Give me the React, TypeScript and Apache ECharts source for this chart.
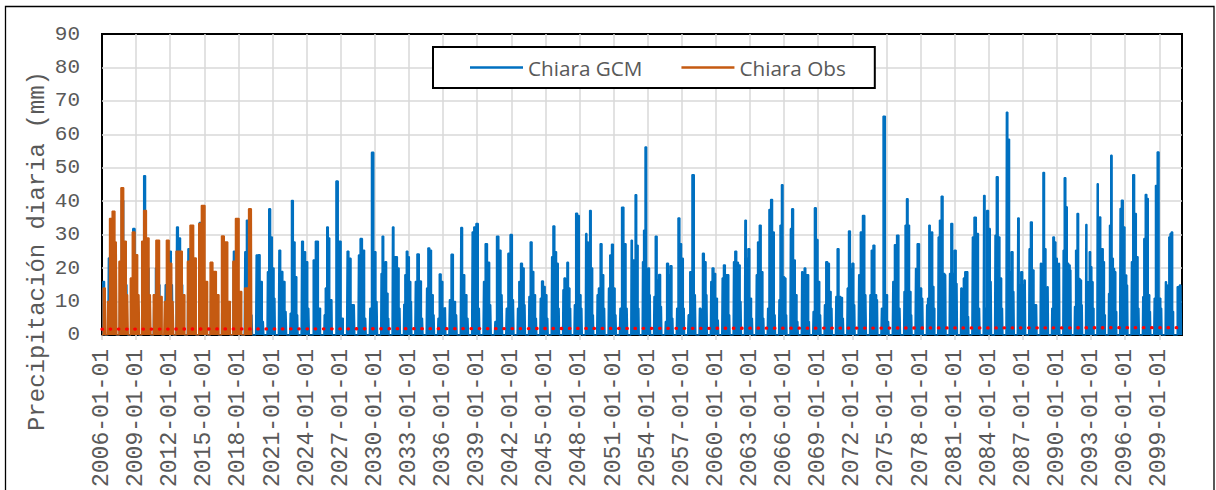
import React, { useEffect, useRef } from "react";
import * as echarts from "echarts";

// Wet-season peak heights (mm/day), one list per season (season index 0 = 2006)
const gcm2006to2017: number[][] = [
  [20, 15, 16],
  [23, 30, 18, 12],
  [15, 40.2, 25, 15],
  [12, 31.8, 20, 12],
  [20, 47.6, 28, 20, 10],
  [12, 20, 15, 10],
  [15, 22, 25, 15],
  [32.3, 29, 15, 10],
  [25.8, 20, 12, 8],
  [33.6, 25, 12, 8],
  [15.7, 12, 8, 6],
  [20, 15, 10, 6],
];
const gcm2018to2029: number[][] = [
  [25, 18, 10, 6],
  [24.9, 34.3, 17, 6],
  [23.9, 24, 16, 4],
  [18.9, 37.7, 29.3, 20, 11],
  [25.3, 19, 16, 7],
  [6.5, 40.2, 27.8, 17.4, 6],
  [28, 24.9, 21.9, 8],
  [22.4, 28, 8],
  [6, 14, 32.3, 29, 10.5, 10.5],
  [46, 28, 5],
  [25, 22.9, 9, 9],
  [23.9, 28.8, 25.3, 5],
];
const gcm2030to2041: number[][] = [
  [8, 54.6, 24.9, 10],
  [18.4, 29.5, 19.9, 21.9, 12.5, 5],
  [32.3, 23.4, 23.4, 20, 8],
  [9.2, 18, 25, 23.4, 16, 10],
  [16, 24.2, 16.1, 5],
  [14, 26, 25.3, 12, 6],
  [5, 18.2, 16, 8, 8.2],
  [10.5, 24.1, 10, 6],
  [32.1, 18, 12, 5],
  [30.8, 32.3, 33.3, 8],
  [16, 27.3, 21.7, 9],
  [4, 29.5, 25.3, 12],
];
const gcm2042to2053: number[][] = [
  [8, 24.4, 30, 10.5],
  [8, 16, 21.4, 20, 9],
  [11.5, 27.8, 19, 12, 5],
  [11, 16.1, 14.5, 12, 5],
  [23.4, 32.6, 24.9, 21.4, 8],
  [13.5, 17, 13.5, 21.7, 14, 8],
  [9, 36.4, 35.7, 12, 8],
  [30.3, 27.8, 25, 37.2, 20, 6],
  [12, 14, 27.3, 18, 8],
  [14, 23.9, 27.1, 14, 6],
  [8, 38.2, 27.3, 8],
  [28.3, 22.4, 22.4, 41.9, 26.8, 8],
];
const gcm2054to2065: number[][] = [
  [21.9, 31.3, 56.2, 18.9, 20, 12],
  [11.5, 29.5, 16.4, 18.1, 8.5],
  [4, 21.4, 18, 20.7, 5],
  [8, 35, 27.3, 22.9, 8],
  [6, 18.9, 47.9, 12],
  [8, 7.5, 24.4, 21.9, 12],
  [16, 20, 18.4, 11, 4.5],
  [17, 20.9, 18, 18, 6],
  [21.9, 25, 21.7, 20.9, 10],
  [34.3, 22.9, 25.8, 11, 5],
  [18, 27.8, 32.8, 18.9, 5],
  [8, 37.5, 40.5, 30.8, 6],
];
const gcm2066to2077: number[][] = [
  [10.5, 32.8, 44.9, 17.4, 17, 6],
  [31.8, 37.7, 22.4, 12, 4],
  [18.9, 12.5, 20, 18, 18, 4],
  [7, 38, 28.5, 16, 6],
  [9, 21.9, 21.4, 13, 8],
  [11.5, 25.8, 11.5, 11.2, 5],
  [14, 31.1, 19.9, 21.4, 9],
  [18, 30.8, 35.7, 12],
  [12, 25.3, 26.8, 12, 10.5],
  [8, 65.4, 12, 4],
  [16, 27, 29.8, 8],
  [13, 32.8, 40.7, 32.8, 13, 6],
];
const gcm2078to2089: number[][] = [
  [19.9, 27.3, 14, 11],
  [9, 11, 32.8, 30.3, 30.8, 14.5, 8],
  [29.3, 34.3, 41.5, 18.4, 18],
  [18.4, 33.3, 18.4, 25.3, 15.4],
  [14, 13.5, 17, 18.9, 18.9, 5.5],
  [29.3, 35.2, 30.3, 8],
  [41.7, 8, 37.2, 31.8, 16],
  [29.8, 47.3, 29.3, 17, 8],
  [66.6, 58.5, 18.9, 24.9, 13],
  [35, 15, 18.9, 15, 16.4],
  [25.8, 33.8, 19.4, 9, 9],
  [21.4, 21, 48.6, 25.8, 7, 14.4],
];
const gcm2090to2101: number[][] = [
  [8, 29.3, 27.8, 22.9, 13, 21.4],
  [25.3, 47, 38.3, 21.4, 20.9, 19.4],
  [8.5, 25.3, 36.3, 16.9, 16.4, 9],
  [33, 9, 15.9, 24.9, 20.4, 15.9, 8],
  [45.2, 22.9, 35.3, 24.9, 25.8, 21.9, 6],
  [12.4, 32.8, 53.7, 22.9, 19.9, 18.9, 7],
  [37.8, 40.3, 32.3, 17.9, 14.9],
  [21.9, 47.9, 36.3, 23.4, 8],
  [11.4, 28.8, 42, 40.8, 12, 7],
  [11, 44.7, 54.7, 11, 8],
  [15.9, 14.9, 13.4, 29.3, 30.3, 30.8, 7],
  [14.4, 14.9, 12],
];
const obsSeasons: number[][] = [
  [35.2, 22.9, 14],
  [10, 34.8, 37, 27.8],
  [22, 44, 28, 12],
  [17, 30.8, 24, 12],
  [28, 37.2, 29, 12],
  [12, 28.3, 11.5],
  [10, 28.3, 21.4, 10],
  [25, 25, 12],
  [22, 32.8, 23],
  [33.3, 38.7, 16],
  [21.7, 19, 12],
  [29.6, 27.8, 10],
  [22, 34.8, 13],
  [14, 37.7],
];
const trendEnds = [1.75, 2.2];
const firstYear = 2006;
const gcmEndYears = 95; // data through 2100-12-31
const obsEndYears = 13.2;
const yTicks = { min: 0, max: 90, step: 10 };
const labelStepYears = 3;

const SEASON_SHIFT = -0.1;

// Each season: dry (0) -> peaks in sequence -> dry (0)
function buildSeasons(seasons: number[][], end: number, half: number): [number, number][] {
  const pts: [number, number][] = [[0, 0]];
  seasons.forEach((vals, s) => {
    const c = s + SEASON_SHIFT;
    const n = vals.length;
    const seg: [number, number][] = [[c - half, 0]];
    vals.forEach((v, j) => {
      seg.push([c - half + 2 * half * ((j + 0.5) / n), v]);
    });
    seg.push([c + half, 0]);
    seg.forEach((p) => {
      if (p[0] > 0 && p[0] < end) pts.push(p);
    });
  });
  pts.push([end, 0]);
  return pts;
}

export default function App() {
  const ref = useRef<HTMLDivElement>(null);
  useEffect(() => {
    document.body.style.margin = "0";
    if (!ref.current) return;
    const chart = echarts.init(ref.current, undefined, { renderer: "svg" });
    const gcm = [
      ...gcm2006to2017,
      ...gcm2018to2029,
      ...gcm2030to2041,
      ...gcm2042to2053,
      ...gcm2054to2065,
      ...gcm2066to2077,
      ...gcm2078to2089,
      ...gcm2090to2101,
    ];
    const mono = "'Liberation Mono', 'Courier New', monospace";
    chart.setOption({
      animation: false,
      backgroundColor: "#fff",
      grid: {
        left: 102,
        right: 34,
        top: 34,
        bottom: 154.7,
        show: true,
        borderColor: "#000",
        borderWidth: 2,
        backgroundColor: "transparent",
      },
      legend: {
        data: ["Chiara GCM", "Chiara Obs"],
        left: 433,
        top: 47,
        icon: "rect",
        itemWidth: 53,
        itemHeight: 2.5,
        itemGap: 39,
        padding: [10, 29, 10, 37],
        borderColor: "#000",
        borderWidth: 2,
        backgroundColor: "#fff",
        textStyle: { fontFamily: "'Open Sans', sans-serif", fontSize: 20.7, color: "#595959" },
      },
      xAxis: {
        type: "value",
        min: 0,
        max: gcmEndYears,
        interval: labelStepYears,
        axisLine: { show: false },
        axisTick: { show: true, length: 5, lineStyle: { color: "#d9d9d9", width: 1.5 } },
        axisLabel: {
          rotate: 90,
          margin: 14,
          fontFamily: mono,
          fontSize: 23,
          color: "#595959",
          showMaxLabel: false,
          formatter: (v: number) => `${firstYear + v}-01-01`,
        },
        splitLine: {
          show: true,
          showMinLine: false,
          showMaxLine: false,
          lineStyle: { color: "#d9d9d9", width: 1.5 },
        },
      },
      yAxis: {
        type: "value",
        min: yTicks.min,
        max: yTicks.max,
        interval: yTicks.step,
        axisLine: { show: false },
        axisTick: { show: false },
        axisLabel: { margin: 22, fontFamily: mono, fontSize: 21, color: "#595959" },
        splitLine: {
          show: true,
          showMinLine: false,
          showMaxLine: false,
          lineStyle: { color: "#d9d9d9", width: 1.5 },
        },
      },
      graphic: [
        {
          type: "rect",
          shape: { x: 5.5, y: 6.5, width: 1208.5, height: 500 },
          style: { fill: "none", stroke: "#000", lineWidth: 1.3 },
          z: 100,
          silent: true,
        },
        {
          type: "text",
          x: 37,
          y: 251,
          rotation: Math.PI / 2,
          style: {
            text: "Precipitación diaria (mm)",
            font: `24px ${mono}`,
            fill: "#595959",
            align: "center",
            verticalAlign: "middle",
          },
        },
      ],
      series: [
        {
          name: "Chiara GCM",
          type: "line",
          step: "middle",
          data: buildSeasons(gcm, gcmEndYears, 0.38),
          showSymbol: false,
          symbol: "none",
          lineStyle: { color: "#0070C0", width: 1.6 },
          itemStyle: { color: "#0070C0" },
          areaStyle: { color: "#0070C0", opacity: 1 },
          z: 2,
        },
        {
          name: "Chiara Obs",
          type: "line",
          step: "middle",
          data: buildSeasons(obsSeasons, obsEndYears, 0.46),
          showSymbol: false,
          symbol: "none",
          lineStyle: { color: "#C55A11", width: 1.6 },
          itemStyle: { color: "#C55A11" },
          areaStyle: { color: "#C55A11", opacity: 1 },
          z: 3,
        },
        {
          name: "Lineal (Chiara GCM)",
          type: "line",
          data: [
            [0, trendEnds[0]],
            [gcmEndYears, trendEnds[1]],
          ],
          showSymbol: false,
          symbol: "none",
          lineStyle: { color: "#ff0000", width: 3.3, type: [0.5, 7.7], cap: "round" },
          z: 4,
        },
      ],
    });
    return () => chart.dispose();
  }, []);
  return (
    <div
      ref={ref}
      style={{ position: "absolute", left: 0, top: 0, width: 1216, height: 490 }}
    />
  );
}
